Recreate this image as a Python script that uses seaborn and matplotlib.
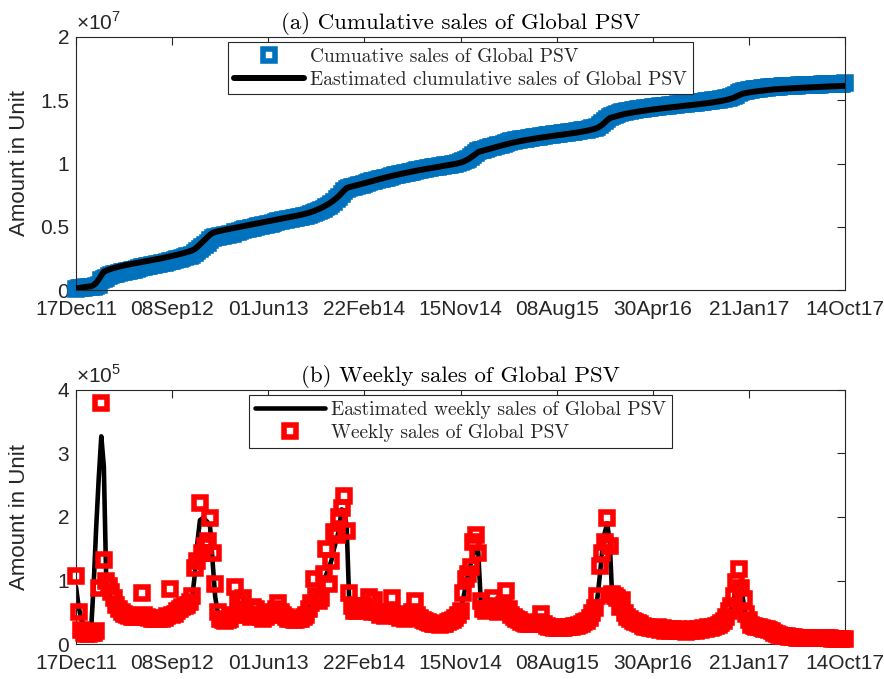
import numpy as np
import pandas as pd
import seaborn as sns
import matplotlib
matplotlib.use("Agg")
import matplotlib.pyplot as plt
from matplotlib.lines import Line2D

# weekly sales of Global PSV, thousands of units, one value per week from 17Dec11
sales_launch = [107, 50, 22, 18, 16, 15, 17, 18, 20, 88, 380, 133]
sales_2012a = [100, 92, 82, 72, 62, 55, 50, 47, 45, 44, 43, 42, 42, 44, 80, 45, 42, 41, 40, 40,
               39, 39, 40, 41, 44, 86]
sales_2012b = [45, 48, 52, 55, 58, 60, 62, 66, 76, 120, 130, 222, 144, 155, 162, 199, 144, 94, 50]
sales_2013a = [40, 38, 37, 38, 40, 45, 90, 65, 55, 72, 50, 45, 42, 58, 55, 45, 42, 40, 42]
sales_2013b = [45, 48, 50, 55, 65, 50, 45, 42, 40, 40, 38, 38, 40, 40, 42, 45, 55, 65]
sales_2013c = [102, 75, 68, 72, 110, 150, 95, 130, 176, 172, 200, 214, 233, 178, 81, 60, 52]
sales_2014a = [52, 58, 55, 60, 56, 74, 50, 70, 50, 46, 48, 44, 46, 50, 72, 48, 44, 41, 42, 40,
               44, 46, 50, 68, 46, 41, 38, 36, 34, 33, 32, 31, 31, 30, 31, 32, 34, 36, 38, 41, 46]
sales_2014b = [52, 80, 102, 110, 121, 160, 172, 144, 68, 55, 52, 55, 60, 72]
sales_2015a = [55, 50, 56, 62, 84, 55, 46, 42, 40, 38, 34, 33, 32, 31, 31, 32, 33, 35, 47, 31,
               29, 27, 26, 25, 25]
sales_2015b = [25, 25, 25, 26, 26, 27, 28, 29, 30, 32, 34, 37, 41, 49, 57]
sales_2015c = [75, 123, 144, 160, 199, 155, 78, 76, 72, 58, 70]
sales_2016a = [49, 43, 39, 37, 35, 33, 31, 29, 27, 26, 25, 25]
sales_2016b = [23, 26, 22, 25, 21, 24, 20, 23, 21, 24, 20, 22, 19, 22, 20, 23, 21, 24, 22, 25,
               23, 26, 25, 27, 28, 30, 33, 37, 43]
sales_2016c = [52, 60, 76, 97, 118, 88, 71, 48, 38]
sales_2017 = [30, 28, 27, 26, 25, 24, 23, 22, 20, 18, 16, 14, 13, 12, 12, 11, 11, 11, 10, 10,
              10, 10, 10, 10, 9, 9, 9, 9, 9, 9, 9, 9, 8, 8, 8, 8, 8, 8]

# estimated weekly sales (model fit), thousands of units
est_launch = [90, 60, 40, 30, 26, 24, 24, 95, 185, 262, 327, 280, 90]
est_2012a = [80, 70, 62, 56, 51, 47, 44, 42, 40, 39, 38, 37, 37, 37, 37, 37, 37, 37, 38, 38,
             39, 40, 42, 44, 47]
est_2012b = [44, 46, 48, 50, 52, 55, 58, 63, 76, 110, 160, 195, 198, 196, 192, 185, 130, 75, 50]
est_2013a = [46, 44, 42, 41, 40, 40, 41, 42, 42, 41, 41, 40, 40, 39, 39, 39, 38, 38, 38, 38,
             38, 38, 38, 38, 38, 38, 38, 38, 38, 39, 40, 42, 44, 47, 51, 57, 65]
est_2013b = [72, 78, 85, 92, 100, 110, 120, 132, 150, 165, 180, 212, 210, 185, 68, 55, 50]
est_2014a = [50, 52, 54, 55, 56, 56, 56, 55, 54, 53, 52, 51, 50, 49, 48, 47, 46, 45, 44, 43,
             42, 41, 40, 39, 38, 37, 36, 35, 34, 34, 33, 33, 33, 33, 33, 34, 35, 36, 38, 40, 44]
est_2014b = [52, 70, 90, 110, 125, 140, 150, 146, 68, 56, 54, 55, 57, 60]
est_2015a = [54, 54, 54, 53, 52, 50, 48, 46, 44, 42, 38, 37, 36, 35, 34, 33, 32, 31, 30, 30,
             29, 29, 28, 28, 27, 27, 27, 27, 27, 27, 28, 29, 30, 32, 34, 37, 41, 46, 51, 55]
est_2015b = [68, 105, 145, 175, 190, 160, 70, 58, 55, 53, 52]
est_2016a = [43, 41, 39, 37, 35, 33, 31, 30, 29, 28, 27, 26, 25, 25, 24, 24, 23, 23, 23, 22,
             22, 22, 22, 22, 22, 22, 22, 22, 23, 23, 24, 25, 26, 27, 28, 29, 31, 33, 36, 39, 43]
est_2016b = [48, 56, 70, 92, 98, 92, 60, 42, 36]
est_2017 = [30, 28, 27, 26, 25, 24, 23, 22, 20, 18, 16, 14, 13, 12, 12, 11, 11, 11, 10, 10,
            10, 10, 10, 10, 9, 9, 9, 9, 9, 9, 9, 9, 8, 8, 8, 8, 8, 8]

x_tick_labels = ["17Dec11", "08Sep12", "01Jun13", "22Feb14", "15Nov14",
                 "08Aug15", "30Apr16", "21Jan17", "14Oct17"]
cum_tick_labels = ["0", "0.5", "1", "1.5", "2"]
week_tick_labels = ["0", "1", "2", "3", "4"]

weekly = np.array(sales_launch + sales_2012a + sales_2012b + sales_2013a + sales_2013b
                  + sales_2013c + sales_2014a + sales_2014b + sales_2015a + sales_2015b
                  + sales_2015c + sales_2016a + sales_2016b + sales_2016c + sales_2017) * 1000.0
est = np.array(est_launch + est_2012a + est_2012b + est_2013a + est_2013b + est_2014a
               + est_2014b + est_2015a + est_2015b + est_2016a + est_2016b + est_2017) * 1000.0

dates = pd.date_range("2011-12-17", periods=len(weekly), freq="7D")
df = pd.DataFrame({"date": dates, "weekly": weekly, "est": est,
                   "cum": np.cumsum(weekly), "est_cum": np.cumsum(est)})
tick_dates = pd.date_range("2011-12-17", periods=len(x_tick_labels), freq="266D")

sns.set_style("white")
plt.rcParams["font.family"] = ["Liberation Sans", "DejaVu Sans"]
plt.rcParams["mathtext.fontset"] = "custom"
plt.rcParams["mathtext.rm"] = "Liberation Sans"

blue = "#0072BD"
red = "#FF0000"
dark = "#262626"
msize, medge = 9, 4

fig = plt.figure(figsize=(8.84, 6.79), dpi=100)
ax1 = fig.add_axes([76 / 884, 1 - 290 / 679, 769 / 884, 253 / 679])
ax2 = fig.add_axes([76 / 884, 1 - 644 / 679, 769 / 884, 254 / 679])

# (a) cumulative
sns.lineplot(data=df, x="date", y="cum", ax=ax1, color=blue, marker="s", linestyle="",
             markersize=msize, markerfacecolor="none", markeredgecolor=blue,
             markeredgewidth=medge, clip_on=False, zorder=2)
sns.lineplot(data=df, x="date", y="est_cum", ax=ax1, color="black", linewidth=4.3, zorder=3)

# (b) weekly
sns.lineplot(data=df, x="date", y="est", ax=ax2, color="black", linewidth=3.3, zorder=2)
sns.lineplot(data=df, x="date", y="weekly", ax=ax2, color=red, marker="s", linestyle="",
             markersize=msize, markerfacecolor="none", markeredgecolor=red,
             markeredgewidth=medge, clip_on=False, zorder=3)

h_blue = Line2D([], [], color=blue, marker="s", linestyle="", markersize=msize,
                markerfacecolor="none", markeredgewidth=medge)
h_red = Line2D([], [], color=red, marker="s", linestyle="", markersize=msize,
               markerfacecolor="none", markeredgewidth=medge)
h_k1 = Line2D([], [], color="black", linewidth=4.3)
h_k2 = Line2D([], [], color="black", linewidth=3.3)

legend_kw = dict(loc="upper center", bbox_to_anchor=(0.5, 0.98), frameon=True,
                 fancybox=False, edgecolor=dark, framealpha=1, handlelength=3.6,
                 handletextpad=0.35, borderpad=0.3, labelspacing=0.25, borderaxespad=0,
                 prop={"family": "cmr10", "size": 14})
leg1 = ax1.legend([h_blue, h_k1], ["Cumuative sales of Global PSV",
                                   "Eastimated clumulative sales of Global PSV"], **legend_kw)
leg2 = ax2.legend([h_k2, h_red], ["Eastimated weekly sales of Global PSV",
                                  "Weekly sales of Global PSV"], **legend_kw)
for leg in (leg1, leg2):
    leg.get_frame().set_linewidth(0.8)

for ax, title, ymax, ylabels, expo in [
        (ax1, "(a) Cumulative sales of Global PSV", 2e7, cum_tick_labels, "×10$^{7}$"),
        (ax2, "(b) Weekly sales of Global PSV", 4e5, week_tick_labels, "×10$^{5}$")]:
    ax.set_xlim(dates[0], dates[-1])
    ax.set_ylim(0, ymax)
    ax.set_xticks(tick_dates)
    ax.set_xticklabels(x_tick_labels)
    ax.set_yticks(np.linspace(0, ymax, len(ylabels)))
    ax.set_yticklabels(ylabels)
    ax.tick_params(direction="in", top=True, right=True, length=6, width=0.8,
                   color=dark, labelcolor=dark, labelsize=15)
    ax.tick_params(axis="x", pad=7)
    ax.tick_params(axis="y", pad=5)
    for sp in ax.spines.values():
        sp.set_color(dark)
        sp.set_linewidth(0.8)
    ax.set_xlabel("")
    ax.set_ylabel("Amount in Unit", fontsize=16, color=dark)
    ax.yaxis.set_label_coords(-0.06, 0.5)
    ax.set_title(title, fontfamily="cmr10", fontsize=16.5, pad=6, color="black")
    ax.text(0.0, 1.012, expo, transform=ax.transAxes, ha="left", va="bottom",
            fontsize=15, color=dark)

fig.savefig("out.png", dpi=100)
